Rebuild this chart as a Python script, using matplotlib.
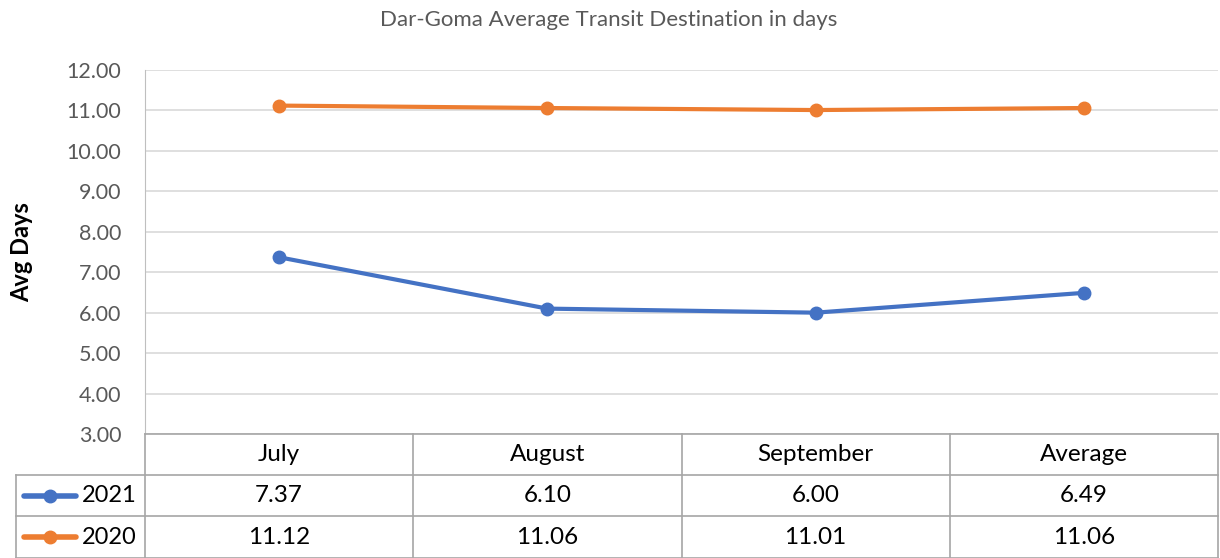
import matplotlib.pyplot as plt
from matplotlib.lines import Line2D

plt.rcParams['font.family'] = ['Lato', 'DejaVu Sans']

categories = ['July', 'August', 'September', 'Average']
series_names = ['2021', '2020']
values_2021 = [7.37, 6.10, 6.00, 6.49]
values_2020 = [11.12, 11.06, 11.01, 11.06]
colors = ['#4472C4', '#ED7D31']
yticks = [3, 4, 5, 6, 7, 8, 9, 10, 11, 12]

W, H = 1220, 558
fig = plt.figure(figsize=(W / 100, H / 100), dpi=100)


def fx(px):
    return px / W


def fy(py):
    return 1 - py / H


# plot area in pixel coords of the reference
left, right, top, bottom = 145, 1218, 70, 434
ax = fig.add_axes([left / W, 1 - bottom / H, (right - left) / W, (bottom - top) / H])

x = list(range(len(categories)))
for vals, c in zip([values_2021, values_2020], colors):
    ax.plot(x, vals, color=c, lw=3, marker='o', markersize=9, solid_capstyle='round', zorder=3)

ax.set_xlim(-0.5, len(categories) - 0.5)
ax.set_ylim(3, 12)
ax.set_yticks(yticks)
ax.set_yticklabels([f'{v:.2f}' for v in yticks], fontsize=15.5, color='#595959')
ax.tick_params(axis='y', length=0, pad=17)
ax.set_xticks([])
ax.grid(axis='y', color='#D9D9D9', lw=1.2)
ax.set_axisbelow(True)
for s in ['top', 'right']:
    ax.spines[s].set_visible(False)
ax.spines['left'].set_color('#BFBFBF')
ax.spines['bottom'].set_color('#A6A6A6')
ax.spines['bottom'].set_linewidth(1.2)

fig.text(fx(22), fy(252), 'Avg Days', rotation=90, ha='center', va='center',
         fontsize=17, fontweight='bold', color='black')
fig.text(fx(609), fy(20), 'Dar-Goma Average Transit Destination in days',
         ha='center', va='center', fontsize=16, color='#595959')

# data table below the axis
line_c = '#A6A6A6'
row_edges = [434, 475, 516, 558]
col_edges = [left + i * (right - left) / len(categories) for i in range(len(categories) + 1)]

# horizontal lines
for ry in row_edges[1:]:
    fig.add_artist(Line2D([fx(16), fx(right)], [fy(ry), fy(ry)], color=line_c, lw=1.2))
# vertical lines
for cx in col_edges:
    fig.add_artist(Line2D([fx(cx), fx(cx)], [fy(434), fy(558)], color=line_c, lw=1.2))
fig.add_artist(Line2D([fx(16), fx(16)], [fy(475), fy(558)], color=line_c, lw=1.2))

for j, cat in enumerate(categories):
    cx = 0.5 * (col_edges[j] + col_edges[j + 1])
    fig.text(fx(cx), fy(0.5 * (row_edges[0] + row_edges[1])), cat, ha='center', va='center',
             fontsize=17.5, color='black')

for i, (name, vals, c) in enumerate(zip(series_names, [values_2021, values_2020], colors)):
    ry = fy(0.5 * (row_edges[i + 1] + row_edges[i + 2]))
    fig.add_artist(Line2D([fx(24), fx(76)], [ry, ry], color=c, lw=4, solid_capstyle='round'))
    fig.add_artist(Line2D([fx(50)], [ry], color=c, marker='o', markersize=9))
    fig.text(fx(82), ry, name, ha='left', va='center', fontsize=17, color='black')
    for j, v in enumerate(vals):
        cx = 0.5 * (col_edges[j] + col_edges[j + 1])
        fig.text(fx(cx), ry, f'{v:.2f}', ha='center', va='center', fontsize=17.5, color='black')

fig.savefig('out.png', dpi=100, facecolor='white')
